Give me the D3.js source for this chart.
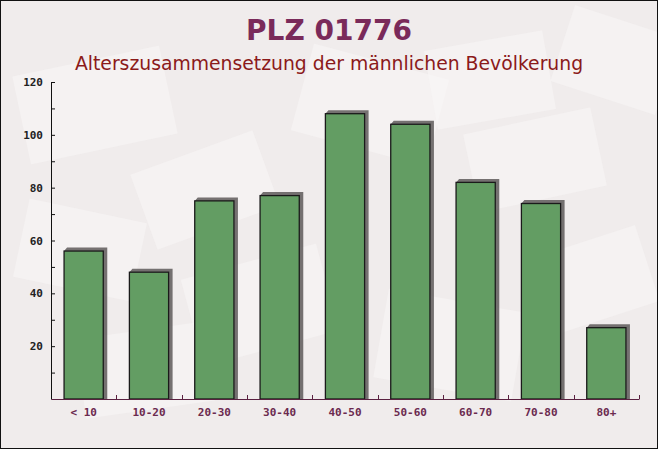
<!DOCTYPE html>
<html><head><meta charset="utf-8">
<script src="https://cdn.jsdelivr.net/npm/d3@7"></script>
<style>html,body{margin:0;padding:0;background:#fff}</style>
</head><body><div id="chart"></div>
<script>
const categories = ["< 10","10-20","20-30","30-40","40-50","50-60","60-70","70-80","80+"];
const values = [56,48,75,77,108,104,82,74,27];
const yTicks = [20,40,60,80,100,120];
const title = "PLZ 01776";
const subtitle = "Alterszusammensetzung der männlichen Bevölkerung";

const W = 658, H = 449;
const m = {left:51, right:20, top:82, bottom:50};
const svg = d3.select("#chart").append("svg").attr("width",W).attr("height",H);

// background
svg.append("rect").attr("x",0).attr("y",0).attr("width",W).attr("height",H).attr("fill","#f0ecec");
const deco = [[20,60,150,90,-12],[140,150,130,80,-20],[300,60,140,90,15],[430,40,120,80,-10],[560,20,110,80,18],
              [20,210,120,80,12],[190,260,140,90,-15],[380,300,140,90,10],[540,240,110,80,-18],[80,330,130,80,-8],[470,120,130,80,-12]];
svg.append("g").selectAll("rect").data(deco).join("rect")
  .attr("x",d=>d[0]).attr("y",d=>d[1]).attr("width",d=>d[2]).attr("height",d=>d[3])
  .attr("transform",d=>`rotate(${d[4]},${d[0]+d[2]/2},${d[1]+d[3]/2})`)
  .attr("fill","#faf7f7").attr("opacity",0.5);

const x = d3.scaleBand().domain(categories).range([m.left, 639]).paddingInner(0.4).paddingOuter(0.2);
const y = d3.scaleLinear().domain([0,120]).range([399, 82]);

// shadows
const g = svg.append("g");
const bw = x.bandwidth();
g.selectAll("path.sh").data(categories).join("path").attr("class","sh")
  .attr("d",(c,i)=>{
    const x0=x(c), y0=y(values[i]), x1=x0+bw, y1=y(0), o=4;
    return `M${x0+o-1},${y0-o+0.5} L${x1+o},${y0-o+0.5} L${x1+o},${y1} L${x1},${y1} L${x1},${y0} L${x0},${y0} Z`;
  })
  .attr("fill","#5e5a5a").attr("opacity",0.85);
g.selectAll("rect.bar").data(categories).join("rect").attr("class","bar")
  .attr("x",c=>x(c)).attr("y",(c,i)=>y(values[i]))
  .attr("width",bw).attr("height",(c,i)=>y(0)-y(values[i]))
  .attr("fill","#639d63").attr("stroke","#1a1a1a").attr("stroke-width",1.3);

// y axis
const yAxis = d3.axisLeft(y).tickValues(yTicks).tickSize(0).tickPadding(8);
const ya = svg.append("g").attr("transform",`translate(${m.left},0)`).call(yAxis);
ya.select(".domain").attr("stroke","#111");
ya.selectAll("text").attr("font-family","'DejaVu Sans Mono', monospace").attr("font-weight","bold")
  .attr("font-size",11).attr("fill","#222");
const minor = d3.range(10,121,10);
svg.append("g").selectAll("line").data(minor).join("line")
  .attr("x1",m.left).attr("x2",m.left+4).attr("y1",d=>y(d)+0.5).attr("y2",d=>y(d)+0.5)
  .attr("stroke","#111");

// x axis
const xAxis = d3.axisBottom(x).tickSize(0).tickPadding(9);
const xa = svg.append("g").attr("transform",`translate(0,399)`).call(xAxis);
xa.select(".domain").attr("stroke","#5a2040");
xa.selectAll("text").attr("font-family","'DejaVu Sans Mono', monospace").attr("font-weight","bold")
  .attr("font-size",11).attr("fill","#6b2a4f");
const bounds = categories.map(c=>x(c)-x.step()*x.paddingInner()/2+x.step());
svg.append("g").selectAll("line").data(bounds).join("line")
  .attr("x1",d=>Math.round(d)+0.5).attr("x2",d=>Math.round(d)+0.5).attr("y1",399).attr("y2",395)
  .attr("stroke","#5a2040");

// titles
svg.append("text").attr("x",W/2).attr("y",40).attr("text-anchor","middle")
  .attr("font-family","'DejaVu Sans', Verdana, sans-serif").attr("font-weight","bold").attr("font-size",28)
  .attr("fill","#7a2a5a").text(title);
svg.append("text").attr("x",W/2).attr("y",70).attr("text-anchor","middle")
  .attr("font-family","'DejaVu Sans', Verdana, sans-serif").attr("font-size",18.8)
  .attr("fill","#8b1a1a").text(subtitle);

// border
svg.append("rect").attr("x",0.5).attr("y",0.5).attr("width",W-1).attr("height",H-1)
  .attr("fill","none").attr("stroke","#111");
</script></body></html>
